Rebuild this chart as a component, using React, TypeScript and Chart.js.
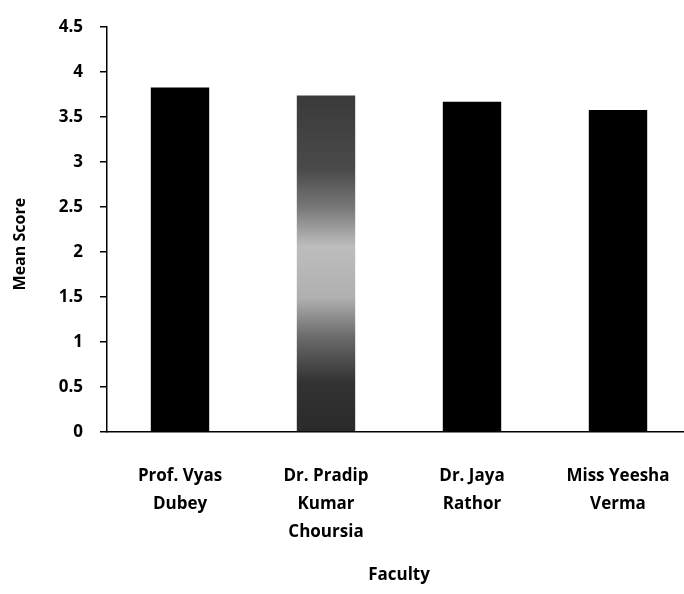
import React, { useEffect, useRef } from "react";
import { Chart, registerables } from "chart.js";

Chart.register(...registerables);

const faculty: string[][] = [
  ["Prof. Vyas", "Dubey"],
  ["Dr. Pradip", "Kumar", "Choursia"],
  ["Dr. Jaya", "Rathor"],
  ["Miss Yeesha", "Verma"],
];
const meanScores: number[] = [3.83, 3.74, 3.67, 3.58];
const yTickLabels: string[] = ["0", "0.5", "1", "1.5", "2", "2.5", "3", "3.5", "4", "4.5"];

const FONT = "'Open Sans', Lato, sans-serif";

export default function App() {
  const ref = useRef<HTMLCanvasElement | null>(null);

  useEffect(() => {
    if (!ref.current) return;
    const barColor = (ctx: any) => {
      const chart = ctx.chart;
      if (ctx.dataIndex !== 1) return "#000000";
      const area = chart.chartArea;
      if (!area) return "#555555";
      const y = chart.scales.y;
      const top = y.getPixelForValue(meanScores[1]);
      const bottom = y.getPixelForValue(0);
      const g = chart.ctx.createLinearGradient(0, top, 0, bottom);
      g.addColorStop(0, "#3a3a3a");
      g.addColorStop(0.22, "#4a4a4a");
      g.addColorStop(0.33, "#777777");
      g.addColorStop(0.45, "#bdbdbd");
      g.addColorStop(0.6, "#b0b0b0");
      g.addColorStop(0.72, "#6a6a6a");
      g.addColorStop(0.85, "#333333");
      g.addColorStop(1, "#2a2a2a");
      return g;
    };

    const chart = new Chart(ref.current, {
      type: "bar",
      data: {
        labels: faculty,
        datasets: [
          {
            data: meanScores,
            backgroundColor: barColor,
            borderWidth: 0,
            categoryPercentage: 1,
            barPercentage: 0.4,
          },
        ],
      },
      options: {
        animation: false,
        responsive: false,
        layout: { padding: { top: 20, right: 9, left: 0, bottom: 0 } },
        plugins: { legend: { display: false }, tooltip: { enabled: false } },
        scales: {
          x: {
            grid: { display: false },
            border: { display: true, color: "#000000", width: 1.5 },
            ticks: {
              color: "#000000",
              padding: 22,
              autoSkip: false,
              maxRotation: 0,
              font: { family: FONT, size: 17, weight: "bold", lineHeight: 1.65 },
            },
            title: {
              display: true,
              text: "Faculty",
              color: "#000000",
              padding: { top: 0, bottom: 9 },
              font: { family: FONT, size: 17, weight: "bold" },
            },
            afterFit: (scale: any) => {
              scale.height = 162;
            },
          },
          y: {
            min: 0,
            max: 4.5,
            grid: {
              display: true,
              drawOnChartArea: false,
              drawTicks: true,
              tickLength: 7,
              color: "#000000",
              lineWidth: 1.5,
            },
            border: { display: true, color: "#000000", width: 1.5 },
            ticks: {
              stepSize: 0.5,
              color: "#000000",
              padding: 17,
              font: { family: FONT, size: 17, weight: "bold" },
              callback: (_v: any, i: number) => yTickLabels[i],
            },
            title: {
              display: true,
              text: "Mean Score       ",
              color: "#000000",
              padding: { top: 11, bottom: 0 },
              font: { family: FONT, size: 16, weight: "bold" },
            },
            afterFit: (scale: any) => {
              scale.width = 107;
            },
          },
        },
      },
    });
    return () => chart.destroy();
  }, []);

  return (
    <div
      style={{
        position: "fixed",
        left: 0,
        top: 0,
        width: 684,
        height: 594,
        overflow: "hidden",
        background: "#ffffff",
      }}
    >
      <canvas ref={ref} width={700} height={594} style={{ width: 700, height: 594, display: "block" }} />
    </div>
  );
}
